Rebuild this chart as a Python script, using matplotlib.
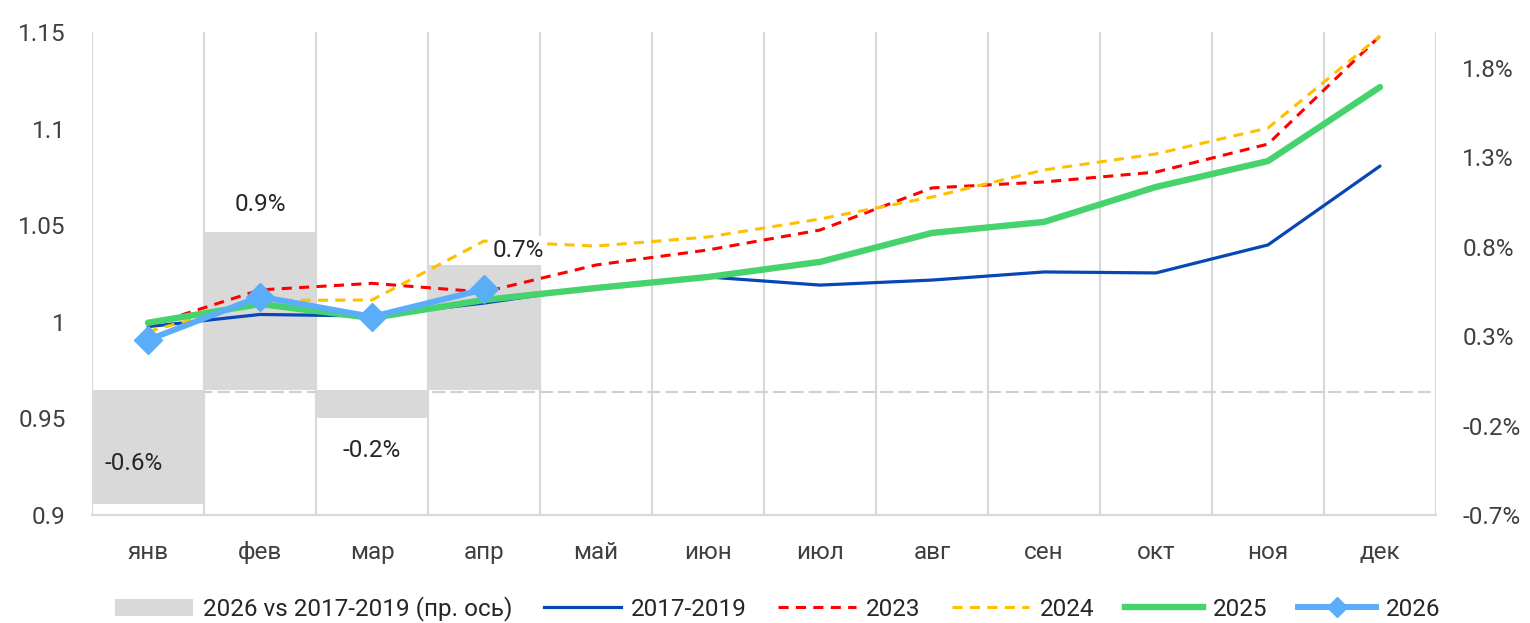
import matplotlib
matplotlib.use("Agg")
import matplotlib.pyplot as plt
from matplotlib.lines import Line2D
from matplotlib.patches import Patch

plt.rcParams['font.family'] = ['Roboto', 'DejaVu Sans']

categories = ['янв', 'фев', 'мар', 'апр', 'май', 'июн', 'июл', 'авг', 'сен', 'окт', 'ноя', 'дек']
diff_2026_pct = [-0.64, 0.88, -0.16, 0.70]
s_2017_2019 = [0.9975, 1.0038, 1.0030, 1.0097, 1.0180, 1.0232, 1.0190, 1.0216, 1.0258, 1.0253, 1.0398, 1.0806]
s_2023 = [0.9980, 1.0165, 1.0199, 1.0154, 1.0294, 1.0372, 1.0475, 1.0693, 1.0724, 1.0775, 1.0920, 1.1480]
s_2024 = [0.9949, 1.0110, 1.0113, 1.0418, 1.0392, 1.0439, 1.0532, 1.0646, 1.0786, 1.0869, 1.1003, 1.1480]
s_2025 = [0.9995, 1.0092, 1.0020, 1.0113, 1.0175, 1.0232, 1.0310, 1.0460, 1.0517, 1.0698, 1.0832, 1.1215]
s_2026 = [0.9906, 1.0130, 1.0026, 1.0168]
left_ticks = [0.9, 0.95, 1.0, 1.05, 1.1, 1.15]
left_tick_labels = ['0.9', '0.95', '1', '1.05', '1.1', '1.15']
right_ticks = [-0.7, -0.2, 0.3, 0.8, 1.3, 1.8]

FS = 17.5
W, H = 1530, 623
fig = plt.figure(figsize=(W / 100, H / 100), dpi=100)
L, R, T, B = 92, 1436, 32, 515
ax = fig.add_axes([L / W, (H - B) / H, (R - L) / W, (B - T) / H])

TXT = '#404040'
GRID = '#d9d9d9'
x = list(range(len(categories)))

# bars on ax (right scale)
ax.set_xlim(-0.5, len(categories) - 0.5)
ax.set_ylim(-0.7, 2.0)
for b in [i - 0.5 for i in range(len(categories) + 1)]:
    ax.axvline(b, color=GRID, lw=1.6, zorder=0)
ax.axhline(-0.015, color='#d0d0d0', lw=1.5, dashes=(6.2, 2.4), zorder=1)
ax.bar(x[:len(diff_2026_pct)], diff_2026_pct, width=1.0, color='#d9d9d9', zorder=2)
ax.set_xticks(x)
ax.set_xticklabels(categories)
ax.tick_params(axis='x', length=0, pad=19, labelsize=FS, colors=TXT)
for s in ['top', 'left', 'right']:
    ax.spines[s].set_visible(False)
ax.spines['bottom'].set_color(GRID)
ax.spines['bottom'].set_linewidth(1.6)

# lines on twin (left scale)
ax2 = ax.twinx()
ax2.set_ylim(0.9, 1.15)
ax2.yaxis.tick_left()
ax2.set_yticks(left_ticks)
ax2.set_yticklabels(left_tick_labels)
ax2.tick_params(axis='y', length=0, pad=19, labelsize=FS, colors=TXT)
for s in ax2.spines.values():
    s.set_visible(False)

ax.yaxis.tick_right()
ax.set_yticks(right_ticks)
ax.set_yticklabels([f"{v:.1f}%" for v in right_ticks])
ax.tick_params(axis='y', length=0, pad=19, labelsize=FS, colors=TXT)

ax2.plot(x, s_2017_2019, color='#0646b6', lw=2.3, zorder=3, solid_capstyle='round')
ax2.plot(x, s_2023, color='#ff0000', lw=2.2, dashes=(3.3, 2.4), zorder=3)
ax2.plot(x, s_2024, color='#ffc000', lw=2.2, dashes=(3.3, 2.4), zorder=3)
ax2.plot(x, s_2025, color='#46d36e', lw=4.6, zorder=4, solid_capstyle='round')
ax2.plot(x[:len(s_2026)], s_2026, color='#5aadf8', lw=4.3, marker='D', ms=14, zorder=5)

# bar labels (positions in right-axis units)
lab_pos = [(-0.13, -0.41), (0.0, 1.035), (0.0, -0.34), (0.31, 0.78)]
for i, v in enumerate(diff_2026_pct):
    px, py = lab_pos[i]
    ax2.text(i + px, py, f"{v:.1f}%", transform=ax.transData, ha='center', va='center',
             fontsize=FS, color='#262626', zorder=10,
             bbox=dict(boxstyle='square,pad=0.12', fc='white' if i in (1, 3) else 'none', ec='none'))

handles = [
    Patch(facecolor='#d9d9d9', edgecolor='none'),
    Line2D([], [], color='#0646b6', lw=2.3),
    Line2D([], [], color='#ff0000', lw=2.2, dashes=(3.3, 2.4)),
    Line2D([], [], color='#ffc000', lw=2.2, dashes=(3.3, 2.4)),
    Line2D([], [], color='#46d36e', lw=4.6),
    Line2D([], [], color='#5aadf8', lw=4.3, marker='D', ms=10),
]
labels = ['2026 vs 2017-2019 (пр. ось)', '2017-2019', '2023', '2024', '2025', '2026']
fig.legend(handles, labels, loc='center', bbox_to_anchor=(778 / W, 14 / H), ncol=6,
           frameon=False, fontsize=FS, handlelength=3.2, handletextpad=0.41,
           columnspacing=1.28, labelcolor='#262626')

fig.savefig('out.png', dpi=100)
